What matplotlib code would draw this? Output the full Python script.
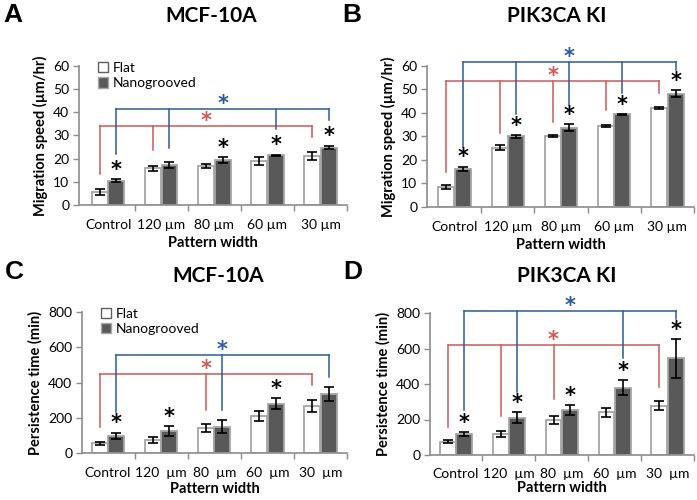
import matplotlib
matplotlib.use("Agg")
import matplotlib.pyplot as plt
from matplotlib.patches import Patch
import numpy as np

plt.rcParams['font.family'] = ['Lato', 'DejaVu Sans']

categories = ["Control", "120 µm", "80 µm", "60 µm", "30 µm"]
categories_cd = ["Control", "120  µm", "80  µm", "60  µm", "30  µm"]

# Panel A: MCF-10A migration speed
a_flat = [5.5, 15.8, 16.8, 19.0, 21.2]
a_flat_err = [1.2, 1.0, 0.8, 1.7, 1.7]
a_nano = [10.5, 17.2, 19.4, 21.4, 24.8]
a_nano_err = [0.6, 1.2, 1.2, 0.3, 0.8]
a_stars = [True, False, True, True, True]
a_red_idx = [0, 1, 4]
a_red_ends = [13.3, 23.7, 29.4]
a_red_level = 34.0
a_blue_idx = [0, 1, 3, 4]
a_blue_ends = [22.2, 24.7, 33.0, 36.9]
a_blue_level = 41.6

# Panel B: PIK3CA KI migration speed
b_flat = [8.5, 25.3, 30.3, 34.6, 42.1]
b_flat_err = [1.0, 1.2, 0.5, 0.4, 0.6]
b_nano = [16.2, 30.0, 33.7, 39.4, 48.2]
b_nano_err = [1.0, 0.6, 1.5, 0.1, 1.6]
b_stars = [True, True, True, True, True]
b_red_idx = [0, 1, 2, 3, 4]
b_red_ends = [15.1, 31.4, 36.3, 41.2, 48.6]
b_red_level = 53.5
b_blue_idx = [0, 1, 2, 3, 4]
b_blue_ends = [25.4, 39.4, 43.6, 48.6, 58.2]
b_blue_level = 61.6

# Panel C: MCF-10A persistence time
c_flat = [55, 75, 140, 210, 265]
c_flat_err = [10, 18, 22, 28, 35]
c_nano = [98, 125, 150, 280, 335]
c_nano_err = [18, 28, 38, 32, 42]
c_stars = [True, True, False, True, False]
c_red_idx = [0, 2, 4]
c_red_ends = [147, 246, 384]
c_red_level = 446
c_blue_idx = [0, 2, 4]
c_blue_ends = [232, 242, 431]
c_blue_level = 558

# Panel D: PIK3CA KI persistence time
d_flat = [75, 118, 195, 240, 278]
d_flat_err = [8, 15, 22, 25, 25]
d_nano = [118, 210, 255, 380, 545]
d_nano_err = [12, 32, 28, 40, 110]
d_stars = [True, True, True, True, True]
d_red_idx = [0, 1, 2, 4]
d_red_ends = [158, 219, 313, 381]
d_red_level = 621
d_blue_idx = [0, 1, 3, 4]
d_blue_ends = [253, 357, 545, 766]
d_blue_level = 809

W, H = 697, 500
fig = plt.figure(figsize=(W / 100, H / 100), dpi=100)

RED = '#d0585a'
BLUE = '#2c5aa0'
DARK = '#595959'
EDGE = '#a6a6a6'
SPINE = '#8c8c8c'
off = 0.155
bw = 0.30


def add_ax(l, r, t, b):
    return fig.add_axes([l / W, 1 - b / H, (r - l) / W, (b - t) / H])


def panel(ax, flat, ferr, nano, nerr, stars, ridx, rends, rlev, bidx, bends, blev,
          ymax, ystep, ylabel, labels, star_step, legend=False, xmin=-0.52, xpad=10, lpad=2):
    x = np.arange(len(labels))
    ax.bar(x - off, flat, bw, color='white', edgecolor=EDGE, linewidth=1.3, zorder=2)
    ax.bar(x + off, nano, bw, color=DARK, edgecolor=EDGE, linewidth=1.3, zorder=2)
    ax.errorbar(x - off, flat, yerr=ferr, fmt='none', ecolor='black', elinewidth=1.2,
                capsize=3.5, capthick=1.2, zorder=3)
    ax.errorbar(x + off, nano, yerr=nerr, fmt='none', ecolor='black', elinewidth=1.2,
                capsize=3.5, capthick=1.2, zorder=3)
    for i, s in enumerate(stars):
        if s:
            ax.text(x[i] + off, nano[i] + nerr[i] + star_step, '*', ha='center', va='center',
                    fontsize=15, fontweight='bold', family='DejaVu Sans', zorder=4)
    # brackets
    for idxs, ends, lev, col, sh in ((ridx, rends, rlev, RED, -off), (bidx, bends, blev, BLUE, off)):
        xs = [x[i] + sh for i in idxs]
        ax.plot([xs[0], xs[-1]], [lev, lev], color=col, lw=1.1, clip_on=False, zorder=1)
        for xx, e in zip(xs, ends):
            ax.plot([xx, xx], [lev, e], color=col, lw=1.1, clip_on=False, zorder=1)
        ax.text((xs[0] + xs[-1]) / 2, lev + star_step * 0.55, '*', ha='center', va='center',
                fontsize=15, fontweight='bold', color=col, family='DejaVu Sans',
                clip_on=False, zorder=4)
    ax.set_xlim(xmin, 4.5)
    ax.set_ylim(0, ymax)
    ax.set_yticks(np.arange(0, ymax + ystep / 2, ystep))
    ax.set_xticks(x)
    ax.set_xticklabels(labels, fontsize=10)
    ax.set_xticks(np.arange(0.5, 5, 1), minor=True)
    ax.tick_params(axis='x', which='major', length=0, pad=xpad)
    ax.tick_params(axis='x', which='minor', length=4, color=SPINE, width=1)
    ax.tick_params(axis='y', length=4, color=SPINE, width=1, labelsize=10, pad=3)
    for s in ('top', 'right'):
        ax.spines[s].set_visible(False)
    for s in ('left', 'bottom'):
        ax.spines[s].set_color(SPINE)
        ax.spines[s].set_linewidth(1.2)
    ax.set_ylabel(ylabel, fontsize=10.5, fontweight='bold', labelpad=4)
    ax.set_xlabel('Pattern width', fontsize=10.5, fontweight='bold', labelpad=lpad)
    if legend:
        handles = [Patch(facecolor='white', edgecolor='#606060', linewidth=1.0, label='Flat'),
                   Patch(facecolor=DARK, edgecolor=EDGE, linewidth=1.0, label='Nanogrooved')]
        ax.legend(handles=handles, loc='upper left', bbox_to_anchor=(0.05, 1.07), frameon=False,
                  fontsize=10, handlelength=0.75, handleheight=0.75, handletextpad=0.3,
                  labelspacing=0.25, borderaxespad=0)


axA = add_ax(79, 347, 66, 205)
panel(axA, a_flat, a_flat_err, a_nano, a_nano_err, a_stars, a_red_idx, a_red_ends, a_red_level,
      a_blue_idx, a_blue_ends, a_blue_level, 60, 10, 'Migration speed (µm/hr)', categories,
      4.0, legend=True, xmin=-0.55, lpad=4)
axB = add_ax(427, 694, 66, 207)
panel(axB, b_flat, b_flat_err, b_nano, b_nano_err, b_stars, b_red_idx, b_red_ends, b_red_level,
      b_blue_idx, b_blue_ends, b_blue_level, 60, 10, 'Migration speed (µm/hr)', categories,
      4.0, xmin=-0.52, lpad=4)
axC = add_ax(82, 347, 312, 453)
panel(axC, c_flat, c_flat_err, c_nano, c_nano_err, c_stars, c_red_idx, c_red_ends, c_red_level,
      c_blue_idx, c_blue_ends, c_blue_level, 800, 200, 'Persistence time (min)', categories_cd,
      52, legend=True, xmin=-0.49)
axD = add_ax(430, 694, 313, 455)
panel(axD, d_flat, d_flat_err, d_nano, d_nano_err, d_stars, d_red_idx, d_red_ends, d_red_level,
      d_blue_idx, d_blue_ends, d_blue_level, 800, 200, 'Persistence time (min)', categories_cd,
      52, xmin=-0.49, xpad=9, lpad=1)

# titles and panel letters
for txt, xc, yc in (("MCF-10A", 211, 16), ("PIK3CA KI", 557, 16),
                    ("MCF-10A", 218, 276), ("PIK3CA KI", 567, 276)):
    fig.text(xc / W, 1 - yc / H, txt, ha='center', va='center', fontsize=15, fontweight='bold')
for txt, xc, yc in (("A", 13, 15), ("B", 352, 15), ("C", 14, 272), ("D", 353, 272)):
    fig.text(xc / W, 1 - yc / H, txt, ha='center', va='center', fontsize=19, fontweight='bold',
             family='Liberation Sans')

fig.savefig('out.png', dpi=100)
